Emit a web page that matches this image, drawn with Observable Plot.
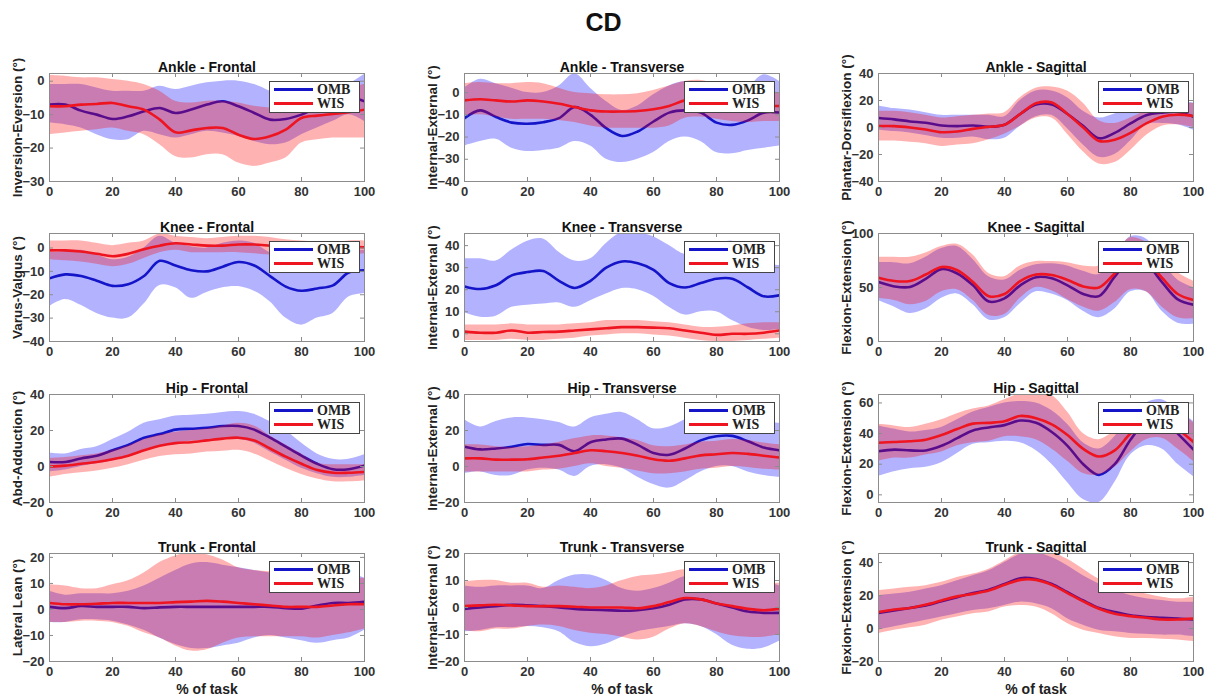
<!DOCTYPE html>
<html><head><meta charset="utf-8">
<script src="https://cdn.jsdelivr.net/npm/d3@7"></script>
<script src="https://cdn.jsdelivr.net/npm/@observablehq/plot@0.6"></script>
<style>
body{margin:0;background:#fff;}
#chart{position:relative;width:1207px;height:698px;overflow:hidden;background:#fff;font-family:"Liberation Sans",Arial,sans-serif;}
#title{position:absolute;left:0;width:1207px;top:8px;text-align:center;font-weight:bold;font-size:25px;color:#111;}
.panel,.legend{position:absolute;}
</style></head><body>
<div id="chart"><div id="title">CD</div></div>
<script>
const pct = [0,5,10,15,20,25,30,35,40,45,50,55,60,65,70,75,80,85,90,95,100];
const xTicks = [0,20,40,60,80,100];
const seriesNames = ["OMB","WIS"];

// Ankle - Frontal
const afOmb   = [-7,-7,-8.8,-10,-11.3,-10.5,-9,-8,-9.5,-8.5,-7,-6,-7.5,-9.5,-11.5,-11.3,-10,-8,-7,-5,-6];
const afOmbLo = [-12.5,-13,-14,-16,-17.5,-17.5,-15,-16,-17,-16,-15,-15.5,-16.5,-18,-19,-18.5,-16,-14,-12,-10,-12];
const afOmbHi = [-1,-1,-1,-2,-3,-3,-3,-1.5,-2.5,-1.5,-0.5,0,0,-1,-3,-5,-6,-6,-4,-1,2];
const afWis   = [-7.5,-7.5,-7,-6.8,-6.5,-7.5,-8.5,-11.5,-15.3,-14.7,-14,-14,-16,-17.3,-16.5,-14.5,-11,-10.3,-9.8,-9.3,-8.5];
const afWisLo = [-16,-15.5,-15,-14.5,-14,-15,-16,-19,-22.5,-23,-22,-22,-24.5,-25.5,-24.5,-23,-18.5,-17.5,-17,-17,-17];
const afWisHi = [1.7,1.5,1,1,0.5,0,-1,-3,-6,-6.5,-6,-6,-6.5,-7.5,-8,-8,-5,-4,-3,-2,-1];
// Ankle - Transverse
const atOmb   = [-11.5,-8,-11,-13.5,-14,-13.3,-11.5,-6.5,-10,-16,-19.5,-17.5,-13,-9,-8,-9,-13.5,-14.5,-12.5,-9,-9];
const atOmbLo = [-24,-22,-21,-25,-26.5,-26,-25,-22,-24,-30,-31.5,-30,-27,-22,-20,-22,-27,-27.5,-26,-25,-24];
const atOmbHi = [2,6,4,2,0,0,3,8.5,2,-4,-8,-6,-1,3,5,3,-1,-2,2,8,5];
const atWis   = [-3.5,-3,-3.5,-4,-3.5,-4,-5,-6.5,-8,-8.5,-8.5,-8.3,-7.5,-6,-3.5,-3,-4,-5,-5.5,-6,-6];
const atWisLo = [-10.5,-10,-11,-12,-12,-12,-12.5,-13.5,-15,-16,-16,-16,-16,-15,-11.5,-11,-12,-13,-13.5,-13,-13];
const atWisHi = [4,4.5,4,4,4.5,4,2,0,-0.5,-1,-1,-0.5,1,3,5,5.5,4,3,2,1,0];
// Ankle - Sagittal
const asOmb   = [7,6,4.5,3.5,1.5,1,1.5,0.5,2,10,17,17,10,1,-8,-4,3,9,11,11.5,8];
const asOmbLo = [-2,-3,-4,-6,-8,-8,-7,-9,-8,1,8,9,-1,-13,-22,-20,-10,2,3,2,-2];
const asOmbHi = [16,14,13,11,9,9,9,9,8,20,27,27,22,12,7,10,14,17,19,20,18];
const asWis   = [1,1,0,-1.5,-3.5,-3,-1,0.5,2,10,18,18.5,10,0,-10,-9,-4,3,8,9.5,8.5];
const asWisLo = [-10,-10,-11,-12,-14,-13,-12,-9,-5,1,7,7,-5,-18,-27,-26,-17,-6,1,2,0];
const asWisHi = [12,12,11,9,7,8,9,10,11,22,29,30,27,18,5,3,7,12,15,17,18];
// Knee - Frontal
const kfOmb   = [-13,-11.3,-12,-14,-16.2,-15.5,-12,-5.5,-7.5,-9.5,-10,-8,-6,-7.5,-12,-16.5,-18.3,-17.3,-16,-10.5,-9.5];
const kfOmbLo = [-25,-22,-24.5,-28,-30,-30,-24,-16,-17,-21.5,-19,-17,-16.5,-18.5,-23,-30,-33,-30,-28,-21,-19.5];
const kfOmbHi = [-2,-1.5,-1,-3,-5,-4,0,5,2,0.5,0,2,3,2,-2,-4,-4,-3,-2,-1,-1];
const kfWis   = [-1,-1,-1.5,-2.5,-3.5,-2.5,-0.5,1,2,1.5,1,1,1.5,1.5,1,0.5,0.3,0,0,0.5,0.3];
const kfWisLo = [-5,-5.5,-6,-7,-8,-7,-4.5,-2,-1,-2,-2,-2,-2,-2.5,-3,-3,-3,-3,-3,-3,-2.5];
const kfWisHi = [3,3,3,2,1,2,3,6,5,4.5,4,4.5,5,5,4.5,3.5,3,2.5,2,3,3];
// Knee - Transverse
const ktOmb   = [21.5,20.3,22,26.5,28,28.5,24,20.8,24,30,32.8,32,29,23,21,23,25,25,21,17,17.5];
const ktOmbLo = [9.5,7.5,8,12,13,13.5,14,12,15,18,20.5,20,17,12,8.5,10,10,6,3,1.5,2];
const ktOmbHi = [34,34,33,38,42,43,37,33,34,41,46,46,44,40,36,37,40,42,37,32,31];
const ktWis   = [1,0.5,0.5,1.5,0.5,0.8,1,1.5,2,2.5,3,3,2.8,2.5,1.5,0.5,-0.5,0,0,0.5,1.5];
const ktWisLo = [-3,-3,-3,-2.5,-3,-3,-2.5,-2,-1,-0.5,0,0,-0.5,-1,-2,-3,-3.5,-3.5,-3,-2.5,-2];
const ktWisHi = [4,4,4,4.5,4,4,4,4.5,5,6,6,6,5.5,5,4,3,3,3.5,4.5,5,5];
// Knee - Sagittal
const ksOmb   = [55,51,50.5,58,67,63,52,37,40,52,59.5,58.5,52,44,42,60,76,72,55,39,34];
const ksOmbLo = [38,32,26,30,40,44,34,20,22,35,46,44,38,28,22,30,46,46,28,17,16];
const ksOmbHi = [73,73,72,78,86,88,76,60,57,66,71,72,70,65,62,76,97,95,75,57,50];
const ksWis   = [59,56,56,62,69,66,55,42,44,56,62,61.5,57,51,50,63,77,74,59,44,38.5];
const ksWisLo = [40,38,34,37,46,48,38,24,25,40,50,47,39,32,28,36,48,46,32,22,21];
const ksWisHi = [78,78,78,82,88,90,80,63,60,70,74,74,73,70,70,82,96,92,80,64,56];
// Hip - Frontal
const hfOmb   = [2.5,2.5,4.5,6,9,12,16,18,20.5,21,21.5,22.5,22.5,20.5,16,11,6,1.5,-1.5,-1.5,0.5];
const hfOmbLo = [-3,-2,0,1.5,3,6,9,11.5,13,14,14.5,15,15,13,8,3.5,-1,-4,-6,-6,-5];
const hfOmbHi = [7.5,7,9.5,11,15,19,24,26,28,28.5,29,30,30.5,29,25,20,13,7,4,4,6.5];
const hfWis   = [0,0.5,1.5,2.5,4,6,9,11.5,13,13.5,14.5,15.5,16,14.5,10,5.5,1.5,-2,-3.5,-3.5,-3];
const hfWisLo = [-6,-4.5,-3.5,-2.5,-1,1,3.5,5.5,6.5,7,8,8.5,9,7,3,-1,-4.5,-7,-8.5,-8.5,-8];
const hfWisHi = [4.5,5,6,7,9,11.5,15,17.5,19,20,21,22.5,24,22.5,17,12,7,2,1,1,1];
// Hip - Transverse
const htOmb   = [11,9.5,10,11,12.5,12,12,8.5,13.5,15,15.5,12,7.5,6.5,10,14.5,16.8,17,14,10.5,9];
const htOmbLo = [-4,-3,-5,-5,-2,-1,-2,-5.5,0,1,-1,-6,-10,-12,-8,-3,0,0,-3,-5,-6];
const htOmbHi = [26,22,25,27,27,26,24.5,22,27,29,30,26,21,22,26,30,33,32,29,25,24];
const htWis   = [4.5,4.5,3.8,3.8,4,5,6,7.5,9,8.5,7.5,6,4,3.2,4.5,6.2,6.8,7.5,7,6,5];
const htWisLo = [-3,-3,-3,-3,-3,-2,-1.5,0,1.5,0,-1,-2.5,-4,-4,-3,-1.5,-1,0,-0.5,-1.5,-2];
const htWisHi = [12,12,11,10.5,11,12,13.5,15.5,17,17,16,14.5,11.5,11,12,13.5,14,15,14.5,13,12];
// Hip - Sagittal
const hsOmb   = [28.5,29.5,29,29,32,37,42,44,45.5,48.5,47,41,32,20,13,20,36,48,50,40,29.5];
const hsOmbLo = [12,15,17,18,21,27,33,34,35,34,29,20,8,-3,-5,8,26,32,30,20,12];
const hsOmbHi = [45,43,41,42,44,49,54,57,60,61,60,55,46,34,30,38,52,60,62,55,48];
const hsWis   = [34,34.5,35,36,39,43,46.5,47,48,51.5,50,46,39,30,25,29,40,48,50,43,34.5];
const hsWisLo = [22,24,24,26,28,32,34,35,38,38,36,30,22,14,13,18,28,36,37,30,22];
const hsWisHi = [46,45,44,46,49,53,56,58,62,66,67,65,54,40,36,42,52,58,60,55,47];
// Trunk - Frontal
const tfOmb   = [1,0.5,1.3,1,1,1,0.5,0.8,1,1,1,1,1,1,1,0.5,0.3,1.5,2.5,2.5,3];
const tfOmbLo = [-5,-5,-4,-4,-4.5,-6,-8,-11,-13.5,-15,-15,-14,-13,-11,-10,-11,-12,-13,-12,-11,-8];
const tfOmbHi = [7,5.5,6,6,6,7,9,12,15,17.5,18,17,16,15,14,13,13,13,14,14,12];
const tfWis   = [2.5,2,2,2.2,2.5,2.5,2.5,2.5,2.8,3,3.3,3,2.5,2,1.5,1,1,1,1.5,2,2];
const tfWisLo = [-5,-5,-4.5,-4.5,-5,-6.5,-9,-11,-14,-16,-15.5,-13,-11,-10.5,-10.5,-10.5,-10.5,-11,-10,-9,-7.5];
const tfWisHi = [9.5,9,8,8,9.5,11,14,18,20.5,22,21,19,16,15,14.5,14,14,13,13,12,12];
// Trunk - Transverse
const ttOmb   = [-0.5,0,0.5,1,0.8,0.5,0,-0.5,-0.8,-1,-1.2,-1,-0.3,1,3,3,1.5,0,-1.5,-2,-2];
const ttOmbLo = [-9,-8.5,-7.5,-7.5,-7,-7.5,-9,-13,-14.5,-13.5,-11,-9,-8,-7,-6,-7,-10,-14,-15.5,-15,-12.5];
const ttOmbHi = [8,7.5,8,8,8,7,10,12,12,10,7,6,7,9,11.5,11.5,11,11,12,10,8];
const ttWis   = [0.5,0.8,1,0.8,0.5,0.5,0.5,0.3,0,0,0,-0.3,0.5,2,3.5,3,1.5,0.5,-0.5,-1,-0.5];
const ttWisLo = [-8.5,-9,-8,-8,-7,-6.5,-7,-8.5,-9.5,-10,-11,-12,-11,-8,-6,-7,-9,-10.5,-11,-11,-10];
const ttWisHi = [9.5,10,10,9,9,7.5,8,7.5,7,8,10,11.5,12,13,14,13,10,9,9,9,9];
// Trunk - Sagittal
const tsOmb   = [9.5,11,12.5,14,16.5,19,21.5,23.5,27,30.5,30,27,22,17,12.5,10,8,7,6.5,6,5.5];
const tsOmbLo = [-1,1,3,5,7,9,11,12,14,16,15,12,6,2,-1,-2,-3,-3.5,-4,-4,-5];
const tsOmbHi = [20,21,22,24,26,29,32,35,40,45,46,43,38,32,27,23,20,18,17,16,16];
const tsWis   = [10,11.5,12.5,14.5,17,19.5,21,23,26.5,29.5,29.5,26.5,21.5,16.5,12,9,7.5,6.5,5.5,5.5,6];
const tsWisLo = [-3,-1,0.5,2,5,7,9,10,13,14,13,9,3,-1,-3,-5,-6,-6,-6.5,-7,-8];
const tsWisHi = [23,24,25,26,28,31,33,36,41,46,47,46,42,36,30,26,23,21,19,18,19];

const panels = [
  {title:"Ankle - Frontal", ylabel:"Inversion-Eversion (°)", domain:[-30,2.3], ticks:[-30,-20,-10,0], omb:[afOmb,afOmbLo,afOmbHi], wis:[afWis,afWisLo,afWisHi]},
  {title:"Ankle - Transverse", ylabel:"Internal-External (°)", domain:[-40,8.6], ticks:[-40,-30,-20,-10,0], omb:[atOmb,atOmbLo,atOmbHi], wis:[atWis,atWisLo,atWisHi]},
  {title:"Ankle - Sagittal", ylabel:"Plantar-Dorsiflexion (°)", domain:[-40,40], ticks:[-40,-20,0,20,40], omb:[asOmb,asOmbLo,asOmbHi], wis:[asWis,asWisLo,asWisHi]},
  {title:"Knee - Frontal", ylabel:"Varus-Valgus (°)", domain:[-40,6.2], ticks:[-40,-30,-20,-10,0], omb:[kfOmb,kfOmbLo,kfOmbHi], wis:[kfWis,kfWisLo,kfWisHi]},
  {title:"Knee - Transverse", ylabel:"Internal-External (°)", domain:[-3.5,45.5], ticks:[0,10,20,30,40], omb:[ktOmb,ktOmbLo,ktOmbHi], wis:[ktWis,ktWisLo,ktWisHi]},
  {title:"Knee - Sagittal", ylabel:"Flexion-Extension (°)", domain:[0,100], ticks:[0,50,100], omb:[ksOmb,ksOmbLo,ksOmbHi], wis:[ksWis,ksWisLo,ksWisHi]},
  {title:"Hip - Frontal", ylabel:"Abd-Adduction (°)", domain:[-20,40], ticks:[-20,0,20,40], omb:[hfOmb,hfOmbLo,hfOmbHi], wis:[hfWis,hfWisLo,hfWisHi]},
  {title:"Hip - Transverse", ylabel:"Internal-External (°)", domain:[-20,40], ticks:[-20,0,20,40], omb:[htOmb,htOmbLo,htOmbHi], wis:[htWis,htWisLo,htWisHi]},
  {title:"Hip - Sagittal", ylabel:"Flexion-Extension (°)", domain:[-5,65.5], ticks:[0,20,40,60], omb:[hsOmb,hsOmbLo,hsOmbHi], wis:[hsWis,hsWisLo,hsWisHi]},
  {title:"Trunk - Frontal", ylabel:"Lateral Lean (°)", domain:[-20,21.5], ticks:[-20,-10,0,10,20], omb:[tfOmb,tfOmbLo,tfOmbHi], wis:[tfWis,tfWisLo,tfWisHi]},
  {title:"Trunk - Transverse", ylabel:"Internal-External (°)", domain:[-20,20], ticks:[-20,-10,0,10,20], omb:[ttOmb,ttOmbLo,ttOmbHi], wis:[ttWis,ttWisLo,ttWisHi]},
  {title:"Trunk - Sagittal", ylabel:"Flexion-Extension (°)", domain:[-20,45.5], ticks:[-20,0,20,40], omb:[tsOmb,tsOmbLo,tsOmbHi], wis:[tsWis,tsWisLo,tsWisHi]}
];

const OMBC = "#1414c8", WISC = "#ee1420";
const colX = [49,464,878], rowY = [73,233,394,553], FW = 315, FH = 108;
const ML = 48, MT = 24, MR = 12;
const chart = document.getElementById("chart");
const tickColor = "#8c8c8c";

panels.forEach((p,i) => {
  const c = i % 3, r = Math.floor(i / 3);
  const MB = r === 3 ? 44 : 22;
  const rows = pct.map((x,k) => ({x, om:p.omb[0][k], olo:p.omb[1][k], ohi:p.omb[2][k], wm:p.wis[0][k], wlo:p.wis[1][k], whi:p.wis[2][k]}));
  const marks = [
    Plot.areaY(rows, {x:"x", y1:"olo", y2:"ohi", fill:"#0000ff", fillOpacity:0.3, curve:"catmull-rom", clip:true}),
    Plot.lineY(rows, {x:"x", y:"om", stroke:OMBC, strokeWidth:2.6, curve:"catmull-rom", clip:true}),
    Plot.areaY(rows, {x:"x", y1:"wlo", y2:"whi", fill:"#ff0000", fillOpacity:0.3, curve:"catmull-rom", clip:true}),
    Plot.lineY(rows, {x:"x", y:"wm", stroke:WISC, strokeWidth:2.6, curve:"catmull-rom", clip:true}),
    Plot.frame({stroke:tickColor}),
    Plot.tickX(xTicks, {x:d=>d, insetTop:FH-4, stroke:tickColor}),
    Plot.tickX(xTicks, {x:d=>d, insetBottom:FH-4, stroke:tickColor}),
    Plot.tickY(p.ticks, {y:d=>d, insetRight:FW-4, stroke:tickColor}),
    Plot.tickY(p.ticks, {y:d=>d, insetLeft:FW-4, stroke:tickColor}),
    Plot.axisX({ticks:xTicks, tickSize:0, tickPadding:5, label:null, fontWeight:"bold", fill:"#333", fontSize:13}),
    Plot.axisY({ticks:p.ticks, tickSize:0, tickPadding:5, label:null, fontWeight:"bold", fill:"#333", fontSize:13}),
    Plot.text([p.title], {text:d=>d, frameAnchor:"top", dy:-11, fontWeight:"bold", fontSize:14, fill:"#111"}),
    Plot.text([p.ylabel], {text:d=>d, frameAnchor:"left", textAnchor:"middle", dx:-32, rotate:-90, fontWeight:"bold", fontSize:13.5, fill:"#222"})
  ];
  if (r === 3) marks.push(Plot.text(["% of task"], {text:d=>d, frameAnchor:"bottom", dy:32, fontWeight:"bold", fontSize:14, fill:"#222"}));
  const svg = Plot.plot({
    width: ML+FW+MR, height: MT+FH+MB,
    marginLeft: ML, marginRight: MR, marginTop: MT, marginBottom: MB,
    style: {fontFamily:"'Liberation Sans', Arial, sans-serif", background:"transparent", overflow:"visible"},
    x: {domain:[0,100]},
    y: {domain:p.domain},
    marks
  });
  const div = document.createElement("div");
  div.className = "panel";
  div.style.left = (colX[c]-ML) + "px";
  div.style.top = (rowY[r]-MT) + "px";
  div.appendChild(svg);
  chart.appendChild(div);

  const lg = document.createElement("div");
  lg.className = "legend";
  lg.style.left = (colX[c]+220) + "px";
  lg.style.top = (rowY[r]+8) + "px";
  const colors = [OMBC, WISC];
  lg.innerHTML = `<svg width="91" height="32"><rect x="0.5" y="0.5" width="90" height="31" fill="#fff" stroke="#444"/>` +
    seriesNames.map((n,k)=>`<line x1="5" x2="44" y1="${8.5+k*14}" y2="${8.5+k*14}" stroke="${colors[k]}" stroke-width="3"/>` +
      `<text x="48" y="${8.5+k*14}" dominant-baseline="central" font-family="'Liberation Serif', 'Times New Roman', serif" font-weight="bold" font-size="14" fill="#222">${n}</text>`).join("") +
    `</svg>`;
  chart.appendChild(lg);
});
</script>
</body></html>
